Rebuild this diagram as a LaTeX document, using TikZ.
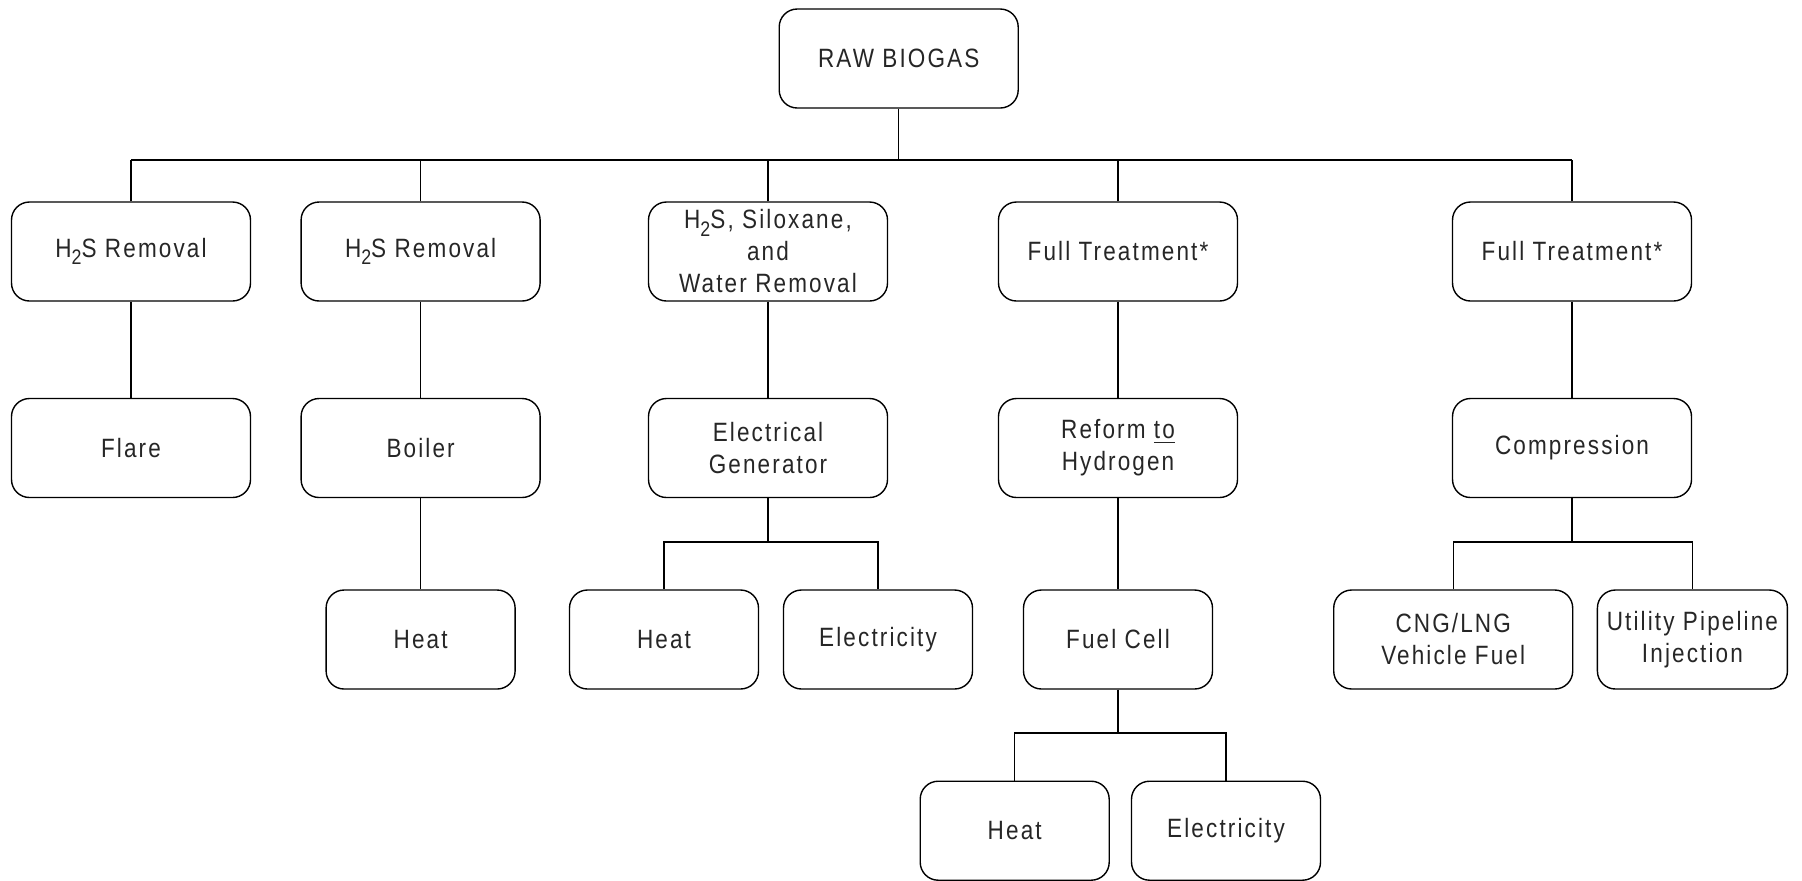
\documentclass[tikz,border=0pt]{standalone}
\usepackage{fontspec}
\setmainfont[FakeStretch=0.85, LetterSpace=8]{Liberation Sans}
\begin{document}
\begin{tikzpicture}[x=0.5pt, y=-0.5pt]

    % rozměry plochy
    \def\W{1802}
    \def\H{880}

    % styl boxů a spojnic
    \tikzset{
        box/.style={draw=black, line width=0.7pt, rounded corners=9pt, align=center,
            minimum width=119.5pt, minimum height=49.5pt, inner sep=0pt,
            text=black!85, font=\fontsize{13.25}{16}\selectfont},
        smallbox/.style={box, minimum width=94.5pt},
        link/.style={draw=black, line width=0.7pt}
    }

    % pomocné makro pro dolní index
    \newcommand{\lowsub}[1]{\raisebox{-3.6pt}{\fontsize{10.5}{10.5}\selectfont #1}}

    \useasboundingbox (0,0) rectangle (\W,\H);

    % kořen
    \node[box] (raw) at (898.7,58.5) {RAW BIOGAS};

    % --- řada 1: úprava plynu ---
    \node[box] (h2sa) at (131,251.5) {H\lowsub{2}S Removal};
    \node[box] (h2sb) at (420.6,251.5) {H\lowsub{2}S Removal};
    \node[box] (sil) at (768,251.5) {H\lowsub{2}S, Siloxane,\\and\\Water Removal};
    \node[box] (fulla) at (1118,251.5) {Full Treatment*};
    \node[box] (fullb) at (1572,251.5) {Full Treatment*};

    % --- řada 2 ---
    \node[box] (flare) at (131,448) {Flare};
    \node[box] (boiler) at (420.6,448) {Boiler};
    \node[box] (gen) at (768,448) {Electrical\\Generator};
    \node[box] (reform) at (1118,448) {Reform \underline{to}\\Hydrogen};
    \node[box] (compr) at (1572,448) {Compression};

    % --- řada 3 ---
    \node[smallbox] (heata) at (420.6,639.5) {Heat};
    \node[smallbox] (heatb) at (664,639.5) {Heat};
    \node[smallbox] (elecb) at (878,639.5) {Electricity};
    \node[smallbox] (cell) at (1118,639.5) {Fuel Cell};
    \node[box] (cng) at (1453.2,639.5) {CNG/LNG\\Vehicle Fuel};
    \node[smallbox, minimum width=95pt] (util) at (1692.4,639.5) {Utility Pipeline\\Injection};

    % --- řada 4 ---
    \node[smallbox] (heatc) at (1014.7,830.7) {Heat};
    \node[smallbox] (elecc) at (1226,830.7) {Electricity};

    % sběrnice
    \coordinate (rootbus) at (898.7,160);
    \coordinate (genbus) at (768,542);
    \coordinate (comprbus) at (1572,542);
    \coordinate (cellbus) at (1118,733);

    % hlavní větvení
    \draw[link] (raw) -- (rootbus);
    \draw[link] (h2sa |- rootbus) -- (fullb |- rootbus);
    \foreach \n in {h2sa,h2sb,sil,fulla,fullb} {
        \draw[link] (\n) -- (\n |- rootbus);
    }

    % svislé spoje
    \draw[link] (h2sa) -- (flare);
    \draw[link] (h2sb) -- (boiler);
    \draw[link] (boiler) -- (heata);
    \draw[link] (sil) -- (gen);
    \draw[link] (fulla) -- (reform);
    \draw[link] (reform) -- (cell);
    \draw[link] (fullb) -- (compr);

    % generátor
    \draw[link] (gen) -- (genbus);
    \draw[link] (heatb) |- (genbus) -| (elecb);

    % komprese
    \draw[link] (compr) -- (comprbus);
    \draw[link] (cng) |- (comprbus) -| (util);

    % palivový článek
    \draw[link] (cell) -- (cellbus);
    \draw[link] (heatc) |- (cellbus) -| (elecc);

\end{tikzpicture}
\end{document}
